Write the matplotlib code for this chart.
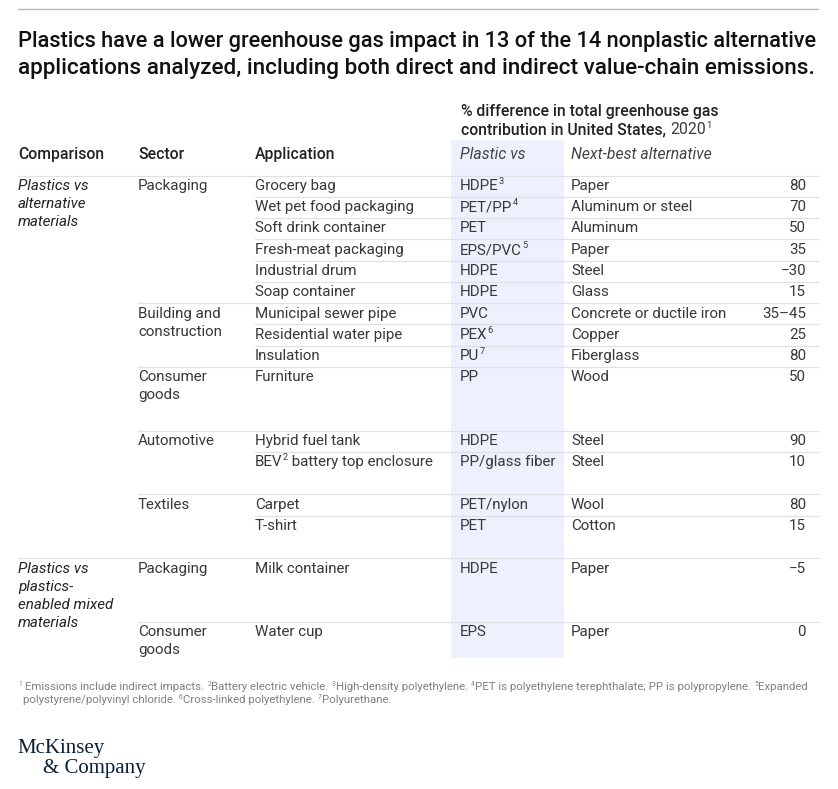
import matplotlib
matplotlib.use("Agg")
import matplotlib.pyplot as plt
from matplotlib.patches import Rectangle

W, H = 838, 789
FONT = "Roboto"
SERIF = "Liberation Serif"
INK = "#222222"
BODY = "#383838"
LINE = "#dfe1e4"
BLUE = "#edf1fd"
BODY_SIZE = 10.9
HEAD_SIZE = 11.35

title_lines = ["Plastics have a lower greenhouse gas impact in 13 of the 14 nonplastic alternative",
               "applications analyzed, including both direct and indirect value-chain emissions."]
title_sizes = [15.65, 16.2]
headers = ["Comparison", "Sector", "Application"]
sub_headers = ["Plastic vs", "Next-best alternative"]
applications = ["Grocery bag", "Wet pet food packaging", "Soft drink container", "Fresh-meat packaging",
                "Industrial drum", "Soap container", "Municipal sewer pipe", "Residential water pipe",
                "Insulation", "Furniture", "Hybrid fuel tank", [("BEV", 0), ("2", 1), (" battery top enclosure", 0)],
                "Carpet", "T-shirt", "Milk container", "Water cup"]
plastics = [[("HDPE", 0), ("3", 1)], [("PET/PP", 0), ("4", 1)], "PET", [("EPS/PVC", 0), ("5", 1)],
            "HDPE", "HDPE", "PVC", [("PEX", 0), ("6", 1)], [("PU", 0), ("7", 1)], "PP", "HDPE",
            "PP/glass fiber", "PET/nylon", "PET", "HDPE", "EPS"]
alternatives = ["Paper", "Aluminum or steel", "Aluminum", "Paper", "Steel", "Glass",
                "Concrete or ductile iron", "Copper", "Fiberglass", "Wood", "Steel", "Steel",
                "Wool", "Cotton", "Paper", "Paper"]
values = ["80", "70", "50", "35", "\u221230", "15", "35\u201345", "25", "80", "50", "90", "10", "80", "15", "\u22125", "0"]
row_y = [185, 206, 227, 249, 270, 291, 313, 334, 355, 376, 440, 461, 504, 525, 568, 631]
sectors = [(0, ["Packaging"]), (6, ["Building and", "construction"]), (9, ["Consumer", "goods"]),
           (10, ["Automotive"]), (12, ["Textiles"]), (14, ["Packaging"]), (15, ["Consumer", "goods"])]
comparisons = [(0, ["Plastics vs", "alternative", "materials"]),
               (14, ["Plastics vs", "plastics-", "enabled mixed", "materials"])]
rules = [(175, 18), (196, 255), (217, 255), (238, 255), (260, 255), (281, 255), (302, 138), (323, 255),
         (345, 255), (366, 138), (430, 138), (451, 255), (493, 138), (515, 255), (557, 18), (621, 138)]

fig = plt.figure(figsize=(W / 100, H / 100), dpi=100, facecolor="white")
ax = fig.add_axes([0, 0, 1, 1])
ax.set_xlim(0, W)
ax.set_ylim(H, 0)
ax.axis("off")
renderer = fig.canvas.get_renderer()


def runs(x, y, parts, size=BODY_SIZE, color=BODY, **kw):
    """Write text runs left to right on baseline y+5; flagged runs are superscripts."""
    if isinstance(parts, str):
        parts = [(parts, 0)]
    for s, sup in parts:
        t = ax.text(x, y + 5 - (size * 0.55 if sup else 0), s, fontsize=size * (0.6 if sup else 1),
                    color=color, va="baseline", ha="left", family=FONT, **kw)
        x = ax.transData.inverted().transform((t.get_window_extent(renderer).x1 + 0.3, 0))[0]
    return x


ax.add_patch(Rectangle((451, 140), 113, 518, fc=BLUE, ec="none", zorder=0))
ax.plot([18, 818], [8.5, 8.5], color="#b5b5b5", lw=1)
for y, x0 in rules:
    ax.plot([x0, 818], [y + .5, y + .5], color=LINE, lw=0.9, zorder=1)

for i, s in enumerate(title_lines):
    ax.text(18, 47 + 26.5 * i, s, fontsize=title_sizes[i], fontweight="medium", color="#111111",
            va="baseline", family=FONT)

runs(461, 111, "% difference in total greenhouse gas", fontweight="medium", color=INK, size=HEAD_SIZE)
xe = runs(461, 129, "contribution in United States,", fontweight="medium", color=INK, size=HEAD_SIZE)
runs(xe + 4, 129, [("2020", 0), ("1", 1)], color=BODY, size=HEAD_SIZE)
for x, s in zip([18, 138, 255], headers):
    runs(x, 153.5, s, fontweight="medium", color=INK, size=HEAD_SIZE)
for x, s in zip([460, 571], sub_headers):
    runs(x, 153.5, s, style="italic", color="#444444", size=HEAD_SIZE)

for i, y in enumerate(row_y):
    runs(255, y, applications[i])
    runs(460, y, plastics[i])
    runs(571, y, alternatives[i])
    ax.text(806, y + 5, values[i], fontsize=BODY_SIZE, color=BODY, ha="right", va="baseline", family=FONT)

for idx, lines in sectors:
    for j, s in enumerate(lines):
        runs(138, row_y[idx] + 18 * j, s)
for idx, lines in comparisons:
    for j, s in enumerate(lines):
        runs(18, row_y[idx] + 18 * j, s, style="italic", color=INK)

foot1 = [("1", 1), (" Emissions include indirect impacts. ", 0), ("2", 1), ("Battery electric vehicle. ", 0),
         ("3", 1), ("High-density polyethylene. ", 0), ("4", 1),
         ("PET is polyethylene terephthalate; PP is polypropylene. ", 0), ("5", 1), ("Expanded", 0)]
foot2 = [("polystyrene/polyvinyl chloride. ", 0), ("6", 1), ("Cross-linked polyethylene. ", 0), ("7", 1), ("Polyurethane.", 0)]
runs(18, 685, foot1, size=8.17, color="#808080")
runs(23, 698, foot2, size=8.17, color="#808080")

ax.text(17, 753.5, "McKinsey", fontsize=15.0, family=SERIF, color="#0b1f3a", va="baseline")
ax.text(43, 773.5, "& Company", fontsize=15.0, family=SERIF, color="#0b1f3a", va="baseline")

fig.savefig("out.png", dpi=100, facecolor="white")
